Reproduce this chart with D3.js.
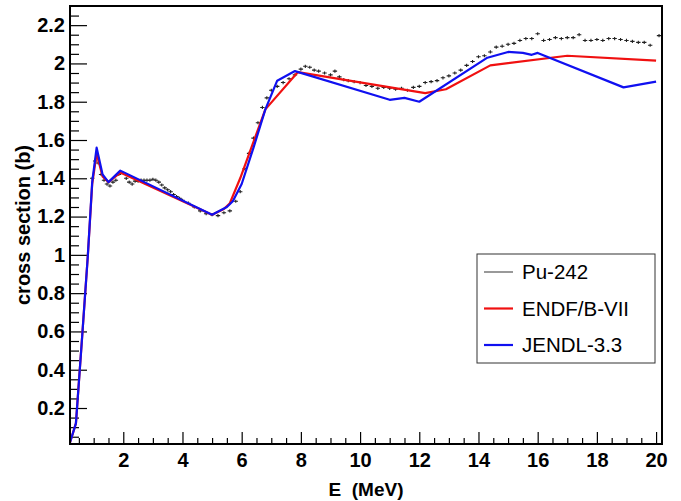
<!DOCTYPE html>
<html>
<head>
<meta charset="utf-8">
<script src="https://cdn.jsdelivr.net/npm/d3@7"></script>
<style>
  body { margin: 0; background: #fff; }
  text { font-family: "Liberation Sans", Arial, Helvetica, sans-serif; }
</style>
</head>
<body>
<div id="chart"></div>
<script>
'use strict';

// measured data (E in MeV, cross section in b)
var dataE = [0.95, 1.05, 1.15, 1.25, 1.35, 1.45, 1.55, 1.65, 1.75, 1.85, 1.95,
  2.1, 2.2, 2.3, 2.4, 2.5, 2.6, 2.7, 2.8, 2.9, 3.0, 3.1, 3.2, 3.3, 3.4, 3.5, 3.6, 3.7, 3.8, 3.9, 4.0,
  4.2, 4.4, 4.6, 4.8, 5.0, 5.2, 5.4, 5.6, 5.8, 5.95, 6.1, 6.25, 6.4, 6.55, 6.7, 6.85, 7.0, 7.2, 7.4,
  7.6, 7.8, 8.0, 8.15, 8.3, 8.45, 8.6, 8.8, 9.0, 9.15, 9.3, 9.45, 9.6, 9.8, 10.0, 10.2, 10.4, 10.6,
  10.8, 11.0, 11.2, 11.4, 11.6, 11.8, 12.0, 12.2, 12.4, 12.6, 12.8, 13.0, 13.2, 13.4, 13.6, 13.8,
  14.0, 14.2, 14.4, 14.6, 14.8, 15.0, 15.2, 15.4, 15.6, 15.8, 16.0, 16.2, 16.4, 16.6, 16.8, 17.0,
  17.2, 17.4, 17.6, 17.8, 18.0, 18.2, 18.4, 18.6, 18.8, 19.0, 19.2, 19.4, 19.6, 19.8, 20.1];
var dataXS = [1.40, 1.49, 1.48, 1.42, 1.39, 1.37, 1.36, 1.38, 1.39, 1.42, 1.43,
  1.40, 1.38, 1.37, 1.385, 1.385, 1.39, 1.39, 1.39, 1.39, 1.395, 1.39, 1.38, 1.365, 1.35, 1.34, 1.33, 1.315, 1.305, 1.295, 1.285,
  1.27, 1.25, 1.23, 1.215, 1.21, 1.205, 1.22, 1.23, 1.28, 1.33, 1.45, 1.53, 1.61, 1.69, 1.77, 1.82, 1.86, 1.88, 1.90,
  1.92, 1.94, 1.97, 1.985, 1.98, 1.965, 1.96, 1.95, 1.94, 1.96, 1.93, 1.915, 1.91, 1.905, 1.90, 1.885, 1.88, 1.87,
  1.875, 1.87, 1.865, 1.87, 1.86, 1.875, 1.88, 1.90, 1.905, 1.91, 1.925, 1.935, 1.95, 1.965, 1.99, 2.01,
  2.035, 2.04, 2.06, 2.085, 2.09, 2.10, 2.105, 2.12, 2.13, 2.13, 2.155, 2.12, 2.125, 2.135, 2.13, 2.135,
  2.135, 2.15, 2.12, 2.12, 2.125, 2.12, 2.13, 2.13, 2.125, 2.12, 2.115, 2.11, 2.11, 2.095, 2.145];

// ENDF/B-VII evaluation
var endfE  = [0.2, 0.4, 0.6, 0.8, 0.95, 1.1, 1.3, 1.5, 1.9, 5.0, 5.4, 5.6, 5.95, 6.8, 7.9, 12.2, 12.9, 14.4, 17.0, 20.0];
var endfXS = [0.02, 0.12, 0.55, 0.99, 1.37, 1.53, 1.41, 1.38, 1.43, 1.21, 1.24, 1.27, 1.40, 1.76, 1.955, 1.845, 1.865, 1.99, 2.04, 2.015];

// JENDL-3.3 evaluation
var jendlE  = [0.2, 0.4, 0.6, 0.8, 0.95, 1.1, 1.3, 1.5, 1.9, 5.0, 5.5, 5.7, 6.0, 6.4, 6.8, 7.2, 7.8, 11.0, 11.5, 12.0, 14.3, 15.0, 15.5, 15.8, 16.0, 18.9, 20.0];
var jendlXS = [0.02, 0.12, 0.55, 0.99, 1.38, 1.56, 1.42, 1.38, 1.44, 1.21, 1.25, 1.28, 1.37, 1.56, 1.76, 1.91, 1.96, 1.81, 1.82, 1.80, 2.03, 2.06, 2.055, 2.045, 2.055, 1.875, 1.905];

var xTicks = [2, 4, 6, 8, 10, 12, 14, 16, 18, 20];
var yTicks = [0.2, 0.4, 0.6, 0.8, 1, 1.2, 1.4, 1.6, 1.8, 2, 2.2];
var legendNames = ['Pu-242', 'ENDF/B-VII', 'JENDL-3.3'];

var xsplot = {};
xsplot.width = 681;
xsplot.height = 501;
xsplot.margins = {top: 6, bottom: 57, left: 70, right: 19};
xsplot.cw = xsplot.width - xsplot.margins.left - xsplot.margins.right;
xsplot.ch = xsplot.height - xsplot.margins.top - xsplot.margins.bottom;

xsplot.xScale = d3.scaleLinear().domain([0.2, 20.2]).range([0, xsplot.cw]);
xsplot.yScale = d3.scaleLinear().domain([0.012, 2.30]).range([xsplot.ch, 0]);

xsplot.appendSvg = function (div) {
    return d3.select(div).append('svg')
        .attr('width', xsplot.width)
        .attr('height', xsplot.height);
};

xsplot.appendAxes = function (g) {
    var xMinor = d3.range(0.5, 20.01, 0.5).filter(function (d) { return d % 2 !== 0; });
    var yMinor = d3.range(0.05, 2.3, 0.05).filter(function (d) { return Math.abs(d * 5 - Math.round(d * 5)) > 0.01; });

    g.append('g')
        .attr('transform', 'translate(0,' + xsplot.ch + ')')
        .call(d3.axisBottom(xsplot.xScale).tickValues(xMinor).tickFormat('').tickSizeInner(-6).tickSizeOuter(0));
    g.append('g')
        .attr('class', 'xaxis')
        .attr('transform', 'translate(0,' + xsplot.ch + ')')
        .call(d3.axisBottom(xsplot.xScale).tickValues(xTicks).tickFormat(d3.format('d'))
            .tickSizeInner(-12).tickSizeOuter(0).tickPadding(9));

    g.append('g')
        .call(d3.axisLeft(xsplot.yScale).tickValues(yMinor).tickFormat('').tickSizeInner(-9).tickSizeOuter(0));
    g.append('g')
        .attr('class', 'yaxis')
        .call(d3.axisLeft(xsplot.yScale).tickValues(yTicks).tickFormat(function (d) { return String(+d.toFixed(1)); })
            .tickSizeInner(-17).tickSizeOuter(0).tickPadding(5));

    g.selectAll('.domain').remove();
    g.selectAll('.tick line').attr('stroke', '#000').attr('stroke-width', 1.2);
    g.selectAll('.tick text')
        .attr('fill', '#000')
        .style('font-size', '20px')
        .style('font-weight', 'bold');
};

xsplot.appendFrame = function (g) {
    g.append('rect')
        .attr('x', 0).attr('y', 0)
        .attr('width', xsplot.cw).attr('height', xsplot.ch)
        .attr('fill', 'none')
        .attr('stroke', '#000')
        .attr('stroke-width', 2);
};

xsplot.appendTitles = function (svg) {
    svg.append('text')
        .attr('x', xsplot.margins.left + xsplot.cw / 2)
        .attr('y', 496)
        .attr('text-anchor', 'middle')
        .style('font-size', '19px')
        .style('font-weight', 'bold')
        .style('white-space', 'pre')
        .text('E  (MeV)');

    svg.append('text')
        .attr('transform', 'translate(30,' + (xsplot.margins.top + xsplot.ch / 2) + ') rotate(-90)')
        .attr('text-anchor', 'middle')
        .style('font-size', '20px')
        .style('font-weight', 'bold')
        .text('cross section (b)');
};

xsplot.appendCurve = function (g, xs, ys, color) {
    var pts = xs.map(function (x, i) { return [x, ys[i]]; });
    var line = d3.line()
        .x(function (d) { return xsplot.xScale(d[0]); })
        .y(function (d) { return xsplot.yScale(d[1]); });
    g.append('path')
        .attr('d', line(pts))
        .attr('fill', 'none')
        .attr('stroke', color)
        .attr('stroke-width', 2.2)
        .attr('stroke-linejoin', 'round');
};

xsplot.appendPoints = function (g, xs, ys) {
    var pts = xs.map(function (x, i) { return [x, ys[i]]; });
    g.append('g').selectAll('path')
        .data(pts)
        .enter()
        .append('path')
        .attr('transform', function (d) {
            return 'translate(' + xsplot.xScale(d[0]) + ',' + xsplot.yScale(d[1]) + ')';
        })
        .attr('d', 'M-2.2,0H2.2M0,-1.6V1.6')
        .attr('stroke', '#222')
        .attr('stroke-width', 1.1);
};

xsplot.appendLegend = function (svg) {
    var colors = ['#555', '#f01010', '#1010f0'];
    var lg = svg.append('g').attr('transform', 'translate(477,254)');
    lg.append('rect')
        .attr('width', 178).attr('height', 109)
        .attr('fill', '#fff')
        .attr('stroke', '#333')
        .attr('stroke-width', 1);
    var rows = lg.selectAll('g.row').data(legendNames).enter().append('g')
        .attr('class', 'row')
        .attr('transform', function (d, i) { return 'translate(0,' + (18 + i * 36.5) + ')'; });
    rows.append('line')
        .attr('x1', 7).attr('x2', 36)
        .attr('stroke', function (d, i) { return colors[i]; })
        .attr('stroke-width', function (d, i) { return i === 0 ? 1.2 : 2.2; });
    rows.append('text')
        .attr('x', 45)
        .attr('dy', '0.36em')
        .style('font-size', '20.5px')
        .text(function (d) { return d; });
};

function drawChart() {
    var svg = xsplot.appendSvg('#chart');
    var g = svg.append('g')
        .attr('transform', 'translate(' + xsplot.margins.left + ',' + xsplot.margins.top + ')');
    xsplot.appendAxes(g);
    xsplot.appendPoints(g, dataE, dataXS);
    xsplot.appendCurve(g, endfE, endfXS, '#f01010');
    xsplot.appendCurve(g, jendlE, jendlXS, '#1010f0');
    xsplot.appendFrame(g);
    xsplot.appendTitles(svg);
    xsplot.appendLegend(svg);
}

drawChart();
</script>
</body>
</html>
